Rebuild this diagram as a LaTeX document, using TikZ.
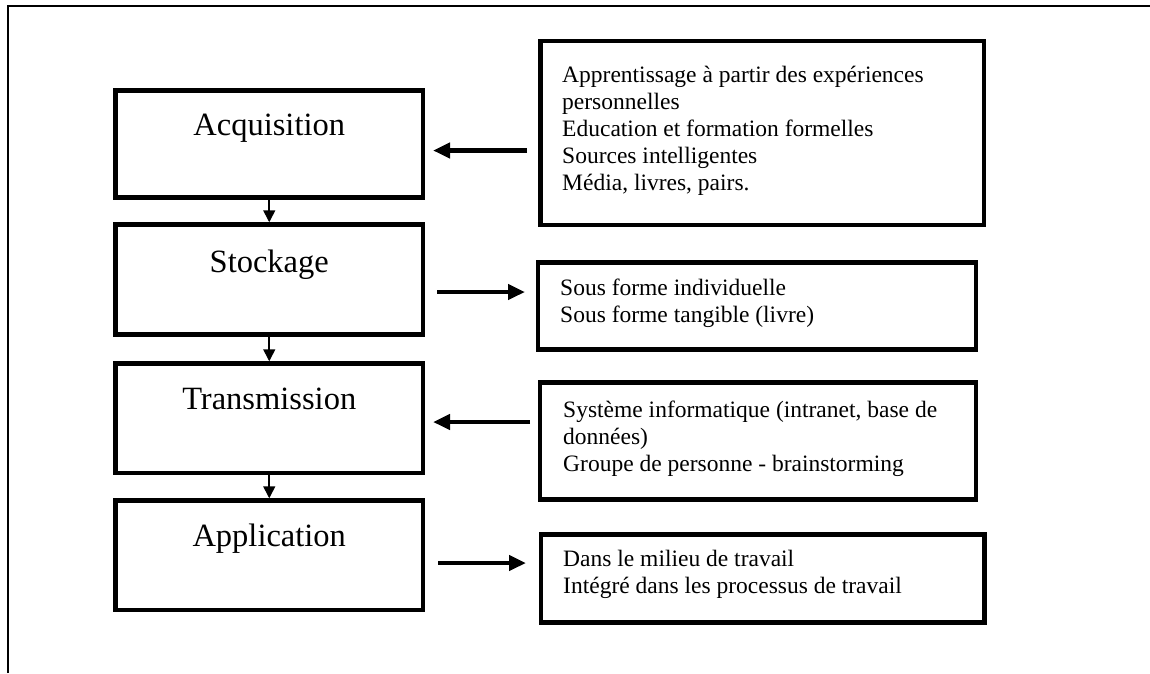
\documentclass[tikz,border=0pt]{standalone}
\usepackage{fontspec}
\setmainfont{Liberation Serif}
\usetikzlibrary{arrows.meta}
\begin{document}
\begin{tikzpicture}[x=1pt,y=-1pt,
  stagebox/.style={draw, line width=4.5pt, inner sep=0pt, minimum width=307.5pt},
  stagetext/.style={anchor=base, inner sep=0pt, font=\fontsize{32.5}{39}\selectfont},
  notebox/.style={draw, line width=4.5pt, inner sep=0pt},
  % multi-line notes: the base anchor sits on the last line
  notetext/.style={anchor=base west, inner sep=0pt, align=left,
    font=\fontsize{23.5}{27}\selectfont},
  linkarrow/.style={line width=1.6pt, -{Triangle[length=12pt,width=12pt]}},
  notearrow/.style={line width=4.8pt, -{Triangle[length=17pt,width=15pt]}}]
\useasboundingbox (0,0) rectangle (1150,673);

% frame lines along the top and the left
\draw[line width=2pt] (7.7,673) -- (7.7,6.3) -- (1150,6.3);

% the four stages
\node[stagebox, minimum height=107pt]   (acq) at (269.25,144)    {};
\node[stagebox, minimum height=110pt]   (sto) at (269.25,279.5)  {};
\node[stagebox, minimum height=109.5pt] (tra) at (269.25,418.25) {};
\node[stagebox, minimum height=109.5pt] (app) at (269.25,555.25) {};
\node[stagetext] (acqt) at (269.25,135) {Acquisition};
\node[stagetext] (stot) at (269.25,272) {Stockage};
\node[stagetext] (trat) at (269.25,409) {Transmission};
\node[stagetext] (appt) at (269.25,546.5) {Application};

\draw[linkarrow] (acq) -- (sto);
\draw[linkarrow] (sto) -- (tra);
\draw[linkarrow] (tra) -- (app);

% side notes
\node[notebox, minimum width=443.5pt, minimum height=184pt] (n1) at (762.25,133) {};
\node[notebox, minimum width=438pt, minimum height=87pt]    (n2) at (757,306)    {};
\node[notebox, minimum width=436pt, minimum height=117pt]   (n3) at (758,441)    {};
\node[notebox, minimum width=443.5pt, minimum height=88pt]  (n4) at (762.75,578.5) {};

\node[notetext] (n1t) at (562,190) {Apprentissage à partir des expériences\\personnelles\\Education et formation formelles\\Sources intelligentes\\Média, livres, pairs.};
\node[notetext] (n2t) at (560,322) {Sous forme individuelle\\Sous forme tangible (livre)};
\node[notetext] (n3t) at (563,471) {Système informatique (intranet, base de\\données)\\Groupe de personne - brainstorming};
\node[notetext] (n4t) at (563,593) {Dans le milieu de travail\\Intégré dans les processus de travail};

% arrows between stages and notes
\coordinate (a1s) at (527,150.5);  \coordinate (a1e) at (433,150.5);
\coordinate (a2s) at (437,292);    \coordinate (a2e) at (525,292);
\coordinate (a3s) at (530,422);    \coordinate (a3e) at (433,422);
\coordinate (a4s) at (438,563);    \coordinate (a4e) at (526,563);
\draw[notearrow] (a1s) -- (a1e);
\draw[notearrow] (a2s) -- (a2e);
\draw[notearrow] (a3s) -- (a3e);
\draw[notearrow] (a4s) -- (a4e);
\end{tikzpicture}
\end{document}
